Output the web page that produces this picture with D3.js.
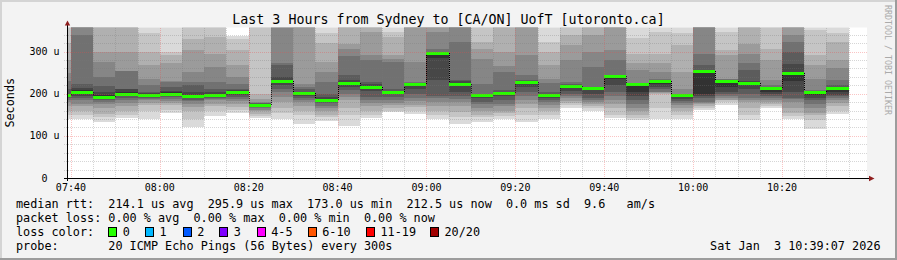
<!DOCTYPE html>
<html lang="en">
<head>
<meta charset="utf-8">
<title>Last 3 Hours from Sydney to [CA/ON] UofT</title>
<script src="https://cdn.jsdelivr.net/npm/d3@7"></script>
<style>
    body { margin: 0; background: #fff; }
    text { font-family: "DejaVu Sans Mono", monospace; white-space: pre; }
</style>
</head>
<body>
<svg id="chart" width="897" height="260"></svg>
<script>

    var width = 897, height = 260;
    var plotLeft = 67, plotRight = 867, plotTop = 27.5, plotBottom = 178;

    // time window and 5 minute steps
    var viewStart = "07:39:07", viewEnd = "10:39:07";
    var firstStep = "07:35";
    var stepMin = 5;

    // median rtt per step (us)
    var medians = [196, 205, 193, 200, 198, 200, 195, 198, 205, 173, 229, 201, 186, 226, 217, 204, 222, 296,
        222, 198, 202, 228, 198, 219, 214, 242, 222, 230, 196, 254, 231, 226, 214, 250, 203, 212.5];

    // sorted ping times per step, cp1..cp18 (us)
    var pings = [
        [140, 150, 160, 170, 180, 185, 190, 193, 195, 197, 200, 210, 230, 250, 280, 320, 380, 400],
        [141, 150, 160, 170, 176, 185, 190, 195, 200, 208, 214, 224, 340, 380, 390, 400, 410, 420],
        [133, 145, 153, 165, 175, 181, 186, 190, 192, 196, 205, 218, 240, 274, 299, 380, 400, 420],
        [142, 150, 160, 170, 178, 185, 190, 195, 198, 203, 210, 212, 253, 255, 299, 365, 390, 410],
        [139, 160, 172, 178, 184, 187, 190, 195, 197, 199, 202, 204, 220, 236, 268, 300, 343, 380],
        [154, 162, 172, 178, 183, 188, 193, 197, 199, 203, 206, 216, 228, 230, 272, 291, 300, 375],
        [121, 141, 160, 168, 175, 182, 186, 189, 192, 198, 205, 220, 228, 252, 303, 330, 370, 400],
        [147, 160, 171, 176, 184, 187, 190, 193, 196, 200, 203, 210, 228, 263, 295, 335, 360, 400],
        [155, 162, 168, 175, 183, 188, 193, 198, 203, 206, 208, 212, 224, 240, 268, 303, 330, 336],
        [142, 147, 152, 158, 162, 166, 170, 173, 174, 175, 176, 177, 178, 181, 188, 200, 380, 400],
        [141, 155, 165, 180, 193, 205, 210, 220, 226, 231, 240, 268, 272, 355, 370, 380, 390, 400],
        [129, 150, 160, 170, 180, 185, 190, 195, 199, 202, 205, 210, 215, 224, 380, 390, 395, 400],
        [136, 144, 150, 158, 165, 170, 178, 181, 184, 188, 192, 200, 228, 252, 275, 320, 343, 370],
        [123, 150, 165, 185, 192, 200, 208, 215, 223, 228, 232, 244, 290, 307, 319, 370, 380, 400],
        [142, 150, 160, 170, 178, 185, 192, 206, 214, 219, 222, 228, 279, 291, 346, 370, 390, 400],
        [157, 160, 166, 172, 178, 185, 192, 199, 202, 205, 207, 210, 275, 283, 291, 335, 347, 400],
        [152, 160, 168, 172, 182, 190, 200, 210, 219, 222.5, 223, 224, 228, 275, 370, 385, 390, 400],
        [139, 150, 160, 170, 180, 190, 195, 232, 285, 296, 297, 299, 307, 347, 360, 380, 390, 400],
        [129, 145, 157, 170, 180, 187, 195, 205, 218, 224, 230, 232, 323, 370, 380, 390, 395, 400],
        [133, 145, 150, 160, 165, 175, 180, 190, 196, 198.5, 199, 200, 224, 283, 307, 323, 390, 400],
        [139, 147, 155, 160, 170, 175, 185, 195, 199, 203, 205, 208, 252, 265, 299, 380, 390, 400],
        [133, 150, 165, 175, 185, 195, 205, 215, 225, 229, 230, 232, 244, 291, 380, 390, 395, 400],
        [141, 150, 160, 165, 172, 180, 185, 190, 196, 199, 200, 205, 225, 236, 268, 299, 323, 380],
        [166, 172, 178, 183, 190, 195, 200, 207, 216, 219.5, 220, 222, 228, 280, 315, 339, 390, 400],
        [158, 165, 170, 175, 180, 186, 190, 200, 210, 214.5, 215, 216, 264, 300, 339, 390, 395, 400],
        [142, 150, 165, 175, 185, 195, 205, 220, 236, 242.5, 243, 245, 279, 303, 380, 390, 395, 400],
        [137, 143, 150, 158, 165, 175, 185, 195, 205, 222.5, 223, 224, 225, 256, 272, 295, 331, 380],
        [141, 165, 200, 201, 203, 205, 210, 215, 222, 230.5, 231, 232, 236, 252, 272, 295, 347, 380],
        [139, 150, 158, 165, 172, 178, 182, 188, 193, 196.5, 197, 198, 200, 212, 252, 315, 343, 400],
        [161, 166, 170, 175, 178, 181, 190, 195, 200, 255, 256, 268, 295, 370, 380, 390, 395, 400],
        [173, 180, 185, 185, 190, 195, 200, 205, 215, 231.5, 232, 233, 235, 236, 291, 303, 347, 400],
        [137, 150, 165, 180, 185, 190, 200, 210, 222, 228, 230, 256, 272, 295, 319, 390, 395, 400],
        [166, 170, 175, 180, 185, 190, 195, 200, 205, 215, 216, 217, 220, 232, 279, 307, 390, 400],
        [141, 148, 155, 165, 180, 188, 190, 205, 230, 252, 271, 299, 323, 339, 380, 390, 395, 400],
        [117, 137, 150, 155, 165, 175, 185, 190, 198, 203.5, 204, 205, 208, 236, 268, 291, 351, 360],
        [153, 160, 170, 178, 185, 190, 195, 198, 205, 213, 215, 220, 232, 260, 279, 323, 343, 360]
    ];

    var yMax = 357;
    var yTicks = [0, 100, 200, 300];
    var xTicks = ["07:40", "08:00", "08:20", "08:40", "09:00", "09:20", "09:40", "10:00", "10:20"];

    var lossLabels = ["0", "1", "2", "3", "4-5", "6-10", "11-19", "20/20"];
    var lossColors = ["#26ff00", "#00b8ff", "#0059ff", "#7e00ff", "#ff00ff", "#ff5500", "#ff0000", "#a10000"];

    var statRtt = ["214.1 us avg", "295.9 us max", "173.0 us min", "212.5 us now", "0.0 ms sd", "9.6", "am/s"];
    var statLoss = ["0.00 % avg", "0.00 % max", "0.00 % min", "0.00 % now"];

    function mins(s) {
        var p = s.split(":").map(Number);
        return p[0] * 60 + p[1] + (p[2] || 0) / 60;
    }

    var x = d3.scaleLinear().domain([mins(viewStart), mins(viewEnd)]).range([plotLeft, plotRight]);
    var y = d3.scaleLinear().domain([0, yMax]).range([plotBottom, plotTop]);

    // smokeping shades: outer pair light, inner pair dark
    var half = 9;
    var shades = d3.range(1, 10).map(function (i) {
        var c = Math.floor(190 / half * (half - i)) + 50;
        return d3.rgb(c, c, c).formatHex();
    });

    var svg = d3.select("#chart");

    svg.append("rect").attr("width", width).attr("height", height).attr("fill", "#f3f3f3");
    // 3d frame
    svg.append("rect").attr("x", 0).attr("y", 0).attr("width", width).attr("height", 2).attr("fill", "#d4d4d4");
    svg.append("rect").attr("x", 0).attr("y", 0).attr("width", 2).attr("height", height).attr("fill", "#d4d4d4");
    svg.append("rect").attr("x", 0).attr("y", height - 2).attr("width", width).attr("height", 2).attr("fill", "#9c9c9c");
    svg.append("rect").attr("x", width - 2).attr("y", 0).attr("width", 2).attr("height", height).attr("fill", "#9c9c9c");

    svg.append("defs").append("clipPath").attr("id", "plotclip")
        .append("rect").attr("x", plotLeft).attr("y", plotTop)
        .attr("width", plotRight - plotLeft).attr("height", plotBottom - plotTop);

    svg.append("rect")
        .attr("x", plotLeft).attr("y", plotTop)
        .attr("width", plotRight - plotLeft).attr("height", plotBottom - plotTop)
        .attr("fill", "#fff");

    var plot = svg.append("g").attr("clip-path", "url(#plotclip)");

    var steps = pings.map(function (p, k) {
        var t0 = mins(firstStep) + k * stepMin;
        return {x0: x(t0), x1: x(t0 + stepMin), p: p, med: medians[k]};
    });

    // smoke
    steps.forEach(function (s) {
        for (var i = 0; i < half; i++) {
            var lo = s.p[i], hi = s.p[17 - i];
            plot.append("rect")
                .attr("x", s.x0)
                .attr("width", s.x1 - s.x0)
                .attr("y", y(hi))
                .attr("height", y(lo) - y(hi))
                .attr("fill", shades[i])
                .attr("shape-rendering", "crispEdges");
        }
    });

    // grid
    var minorCol = "rgba(120,120,120,0.3)", majorCol = "rgba(240,70,70,0.32)";
    var grid = svg.append("g").attr("shape-rendering", "crispEdges").attr("stroke-dasharray", "1,1");
    d3.range(20, yMax, 20).forEach(function (v) {
        var major = v % 100 === 0;
        grid.append("line")
            .attr("x1", plotLeft - 3).attr("x2", plotRight)
            .attr("y1", Math.round(y(v)) + 0.5).attr("y2", Math.round(y(v)) + 0.5)
            .attr("stroke", major ? majorCol : minorCol);
    });
    d3.range(mins("07:40"), mins(viewEnd), 5).forEach(function (t) {
        var major = (t % 20) === 0;
        grid.append("line")
            .attr("x1", Math.round(x(t)) + 0.5).attr("x2", Math.round(x(t)) + 0.5)
            .attr("y1", plotTop).attr("y2", plotBottom + 2)
            .attr("stroke", major ? majorCol : minorCol);
    });

    // median line: dotted risers, loss coloured steps
    steps.forEach(function (s, k) {
        if (k < steps.length - 1) {
            plot.append("line")
                .attr("x1", Math.round(s.x1) + 0.5).attr("x2", Math.round(s.x1) + 0.5)
                .attr("y1", y(s.med)).attr("y2", y(steps[k + 1].med))
                .attr("stroke", "#000").attr("stroke-dasharray", "1,1")
                .attr("shape-rendering", "crispEdges");
        }
    });
    steps.forEach(function (s) {
        plot.append("rect")
            .attr("x", s.x0).attr("width", s.x1 - s.x0)
            .attr("y", Math.round(y(s.med)) - 1.5).attr("height", 3)
            .attr("fill", lossColors[0])
            .attr("shape-rendering", "crispEdges");
    });

    // axes
    svg.append("line").attr("x1", plotLeft - 3).attr("x2", plotRight + 4)
        .attr("y1", plotBottom + 0.5).attr("y2", plotBottom + 0.5)
        .attr("stroke", "#000");
    svg.append("line").attr("x1", plotLeft + 0.5).attr("x2", plotLeft + 0.5)
        .attr("y1", plotBottom + 3).attr("y2", plotTop - 4)
        .attr("stroke", "#000");
    svg.append("path").attr("d", "M869,175.8L874.5,178.5L869,181.2Z").attr("fill", "#8f1d1d");
    svg.append("path").attr("d", "M64.8,25.5L67.5,20.5L70.2,25.5Z").attr("fill", "#8f1d1d");

    svg.selectAll(".ylab").data(yTicks).enter().append("text")
        .attr("x", function (d) { return d === 0 ? 47.5 : 59.5; })
        .attr("y", function (d) { return y(d) + 3.6; })
        .attr("text-anchor", "end")
        .attr("font-size", "10px")
        .text(function (d) { return d === 0 ? "0" : d + " u"; });

    svg.selectAll(".xlab").data(xTicks).enter().append("text")
        .attr("x", function (d) { return x(mins(d)); })
        .attr("y", 191)
        .attr("text-anchor", "middle")
        .attr("font-size", "10px")
        .text(function (d) { return d; });

    svg.append("text")
        .attr("transform", "translate(14," + ((plotTop + plotBottom) / 2) + ") rotate(-90)")
        .attr("text-anchor", "middle")
        .attr("font-size", "11.8px")
        .text("Seconds");

    svg.append("text")
        .attr("x", width / 2).attr("y", 24)
        .attr("text-anchor", "middle")
        .attr("font-size", "13.3px")
        .text("Last 3 Hours from Sydney to [CA/ON] UofT [utoronto.ca]");

    svg.append("text")
        .attr("transform", "translate(885,5) rotate(90)")
        .attr("font-size", "8.3px")
        .attr("fill", "#aaaaaa")
        .text("RRDTOOL / TOBI OETIKER");

    // legend, laid out on a monospace column grid
    var cw = 7.1, lx = 16;
    function col(c) { return lx + c * cw; }
    var legend = svg.append("g").attr("font-size", "11.8px");
    function put(xp, yp, t) {
        legend.append("text").attr("x", xp).attr("y", yp).text(t);
    }

    put(col(0), 207.5, "median rtt:");
    [13, 27, 41, 55, 69, 80, 86].forEach(function (c, i) { put(col(c), 207.5, statRtt[i]); });

    put(col(0), 221.5, "packet loss:");
    [13, 25, 37, 49].forEach(function (c, i) { put(col(c), 221.5, statLoss[i]); });

    put(col(0), 235.5, "loss color:");
    [108.3, 145, 182.7, 219.3, 256.7, 307.7, 366, 430].forEach(function (xp, i) {
        legend.append("rect")
            .attr("x", Math.round(xp) + 0.5).attr("y", 227.5).attr("width", 8).attr("height", 9)
            .attr("fill", lossColors[i]).attr("stroke", "#000")
            .attr("shape-rendering", "crispEdges");
        put(xp + 14.5, 235.5, lossLabels[i]);
    });

    put(col(0), 249.5, "probe:");
    put(col(13), 249.5, "20 ICMP Echo Pings (56 Bytes) every 300s");
    legend.append("text").attr("x", 880.5).attr("y", 249.5).attr("text-anchor", "end")
        .text("Sat Jan  3 10:39:07 2026");

</script>
</body>
</html>
